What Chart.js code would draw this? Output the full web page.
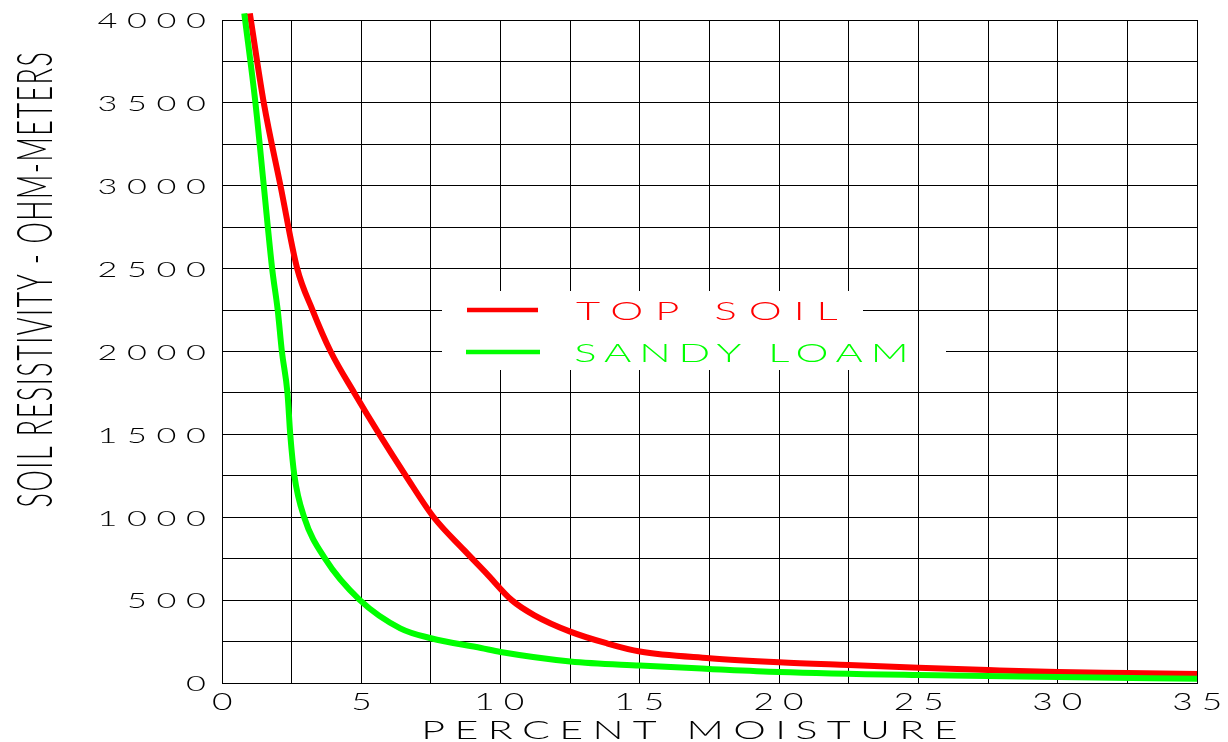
<!DOCTYPE html>
<html>
<head>
<meta charset="utf-8">
<title>Soil resistivity vs. moisture</title>
<script src="https://cdn.jsdelivr.net/npm/chart.js@4.4.1/dist/chart.umd.min.js"></script>
<style>
  html, body { margin: 0; padding: 0; background: #ffffff; }
  #wrap { width: 1228px; height: 742px; position: relative; }
</style>
</head>
<body>
<div id="wrap"><canvas id="chart"></canvas></div>
<script>
// ---- data -------------------------------------------------------------
const xTickLabels = ['0', '5', '10', '15', '20', '25', '30', '35'];
const yTickLabels = ['0', '500', '1000', '1500', '2000', '2500', '3000', '3500', '4000'];
const seriesNames = ['TOP SOIL', 'SANDY LOAM'];
const xAxisTitle = 'PERCENT MOISTURE';
const yAxisTitle = 'SOIL RESISTIVITY - OHM-METERS';

// Top soil: percent moisture / resistivity (ohm-meters)
const topSoilMoisture    = [1.0, 1.5, 2.1, 2.7, 3.25, 3.9, 4.75, 5.65, 6.6, 7.6, 8.7, 9.5, 10.4, 11.2, 12.5, 13.8, 15, 17.5, 20, 22.5, 25, 27.5, 30, 32.5, 35];
const topSoilResistivity = [4040, 3500, 3000, 2500, 2250, 2000, 1750, 1500, 1250, 1000, 800, 660, 500, 410, 310, 240, 190, 150, 125, 108, 92, 78, 66, 60, 54];

// Sandy loam: percent moisture / resistivity (ohm-meters)
const sandyLoamMoisture    = [0.8, 1.2, 1.5, 1.8, 2.0, 2.15, 2.35, 2.45, 2.6, 2.95, 3.7, 4.95, 6.4, 7.5, 9.3, 10, 12.5, 15, 17.5, 20, 25, 30, 35];
const sandyLoamResistivity = [4040, 3500, 3000, 2500, 2250, 2000, 1750, 1500, 1250, 1000, 750, 500, 330, 270, 211, 187, 130, 105, 85, 67, 48, 36, 25];

const topSoilColor = '#ff0000';
const sandyLoamColor = '#00ff00';

// ---- plotter-style lettering -------------------------------------------
// Wide, thin, evenly pitched letters like a pen plotter's stroke font.
const FONT_FAMILY = 'Lato, Roboto, "DejaVu Sans", sans-serif';
const FONT_WEIGHT = '300';

function plotText(ctx, text, o) {
  ctx.save();
  const probe = 100;
  const ref = o.refChar || 'H';
  ctx.font = `${FONT_WEIGHT} ${probe}px ${FONT_FAMILY}`;
  ctx.letterSpacing = '0px';
  const mh = ctx.measureText(ref);
  const size = probe * o.capH / (mh.actualBoundingBoxAscent + mh.actualBoundingBoxDescent);
  ctx.font = `${FONT_WEIGHT} ${size}px ${FONT_FAMILY}`;
  const mR = ctx.measureText(ref);
  const glyphInk = mR.actualBoundingBoxLeft + mR.actualBoundingBoxRight;
  const base = mR.actualBoundingBoxDescent;
  const sx = o.glyphW / glyphInk;
  const chars = Array.from(text);
  const natural = ctx.measureText(text).width / chars.length;
  const ls = o.pitch / sx - natural;
  ctx.letterSpacing = ls + 'px';
  const m = ctx.measureText(text);
  const inkW = (m.actualBoundingBoxLeft + m.actualBoundingBoxRight) * sx;
  let off = 0;
  if (o.align === 'center') off = -inkW / 2;
  else if (o.align === 'right') off = -inkW;
  ctx.translate(o.x, o.y);
  if (o.angle) ctx.rotate(o.angle);
  ctx.scale(sx, 1);
  ctx.textAlign = 'left';
  ctx.textBaseline = 'alphabetic';
  ctx.fillStyle = o.color || '#000';
  ctx.fillText(text, off / sx + m.actualBoundingBoxLeft, o.capH / 2 - base);
  ctx.restore();
}

// Tick labels, axis titles and the boxed key, all in plotter lettering.
const plotterText = {
  id: 'plotterText',
  beforeDatasetsDraw(chart) {
    const ctx = chart.ctx;
    const xs = chart.scales.x;
    // blank panel behind the key
    ctx.save();
    ctx.fillStyle = '#ffffff';
    ctx.fillRect(442, 291, 863 - 442, 79);
    ctx.fillRect(863, 331, 946 - 863, 39);
    // the 25 % grid line runs through the key panel
    const gx = Math.round(xs.getPixelForValue(25)) + 0.5;
    ctx.strokeStyle = '#000';
    ctx.lineWidth = 1;
    ctx.beginPath();
    ctx.moveTo(gx, 331);
    ctx.lineTo(gx, 370);
    ctx.stroke();
    ctx.restore();
  },
  afterDatasetsDraw(chart) {
    const ctx = chart.ctx;
    const xs = chart.scales.x;
    const ys = chart.scales.y;
    const area = chart.chartArea;

    // x tick labels
    xs.ticks.forEach(t => {
      if (!t.label) return;
      plotText(ctx, String(t.label), {
        x: xs.getPixelForValue(t.value), y: 701, refChar: '0',
        capH: 17, glyphW: 20, pitch: 29.5, align: 'center', color: '#000'
      });
    });
    // y tick labels
    ys.ticks.forEach(t => {
      if (!t.label) return;
      plotText(ctx, String(t.label), {
        x: area.left - 16, y: ys.getPixelForValue(t.value), refChar: '0',
        capH: 16.5, glyphW: 20, pitch: 29.5, align: 'right', color: '#000'
      });
    });
    // axis titles
    plotText(ctx, xAxisTitle, {
      x: 690, y: 729, capH: 19, glyphW: 25, pitch: 34.1, align: 'center', color: '#000'
    });
    plotText(ctx, yAxisTitle, {
      x: 34, y: 280, capH: 36, glyphW: 15, pitch: 15.75, align: 'center',
      angle: -Math.PI / 2, color: '#000'
    });

    // key
    const keyRows = [
      { name: seriesNames[0], color: topSoilColor, y: 310, x0: 467, x1: 538 },
      { name: seriesNames[1], color: sandyLoamColor, y: 352, x0: 466, x1: 540 }
    ];
    keyRows.forEach(r => {
      ctx.save();
      ctx.strokeStyle = r.color;
      ctx.lineWidth = 4.5;
      ctx.lineCap = 'butt';
      ctx.beginPath();
      ctx.moveTo(r.x0, r.y);
      ctx.lineTo(r.x1, r.y);
      ctx.stroke();
      ctx.restore();
      plotText(ctx, r.name, {
        x: 576, y: r.y + 1, capH: 18, glyphW: 25, pitch: 34.2, align: 'left', color: r.color
      });
    });
  }
};

const toPoints = (xs, ys) => xs.map((x, i) => ({ x, y: ys[i] }));

new Chart(document.getElementById('chart'), {
  type: 'line',
  data: {
    datasets: [
      {
        label: seriesNames[0],
        data: toPoints(topSoilMoisture, topSoilResistivity),
        borderColor: topSoilColor,
        borderWidth: 6,
        pointRadius: 0,
        cubicInterpolationMode: 'monotone',
        clip: false,
        order: 2
      },
      {
        label: seriesNames[1],
        data: toPoints(sandyLoamMoisture, sandyLoamResistivity),
        borderColor: sandyLoamColor,
        borderWidth: 6,
        pointRadius: 0,
        cubicInterpolationMode: 'monotone',
        clip: false,
        order: 1
      }
    ]
  },
  options: {
    responsive: true,
    maintainAspectRatio: false,
    animation: false,
    devicePixelRatio: 1,
    layout: { padding: { left: 0, top: 20, right: 31, bottom: 0 } },
    plugins: {
      legend: { display: false },
      tooltip: { enabled: false },
      title: { display: false }
    },
    scales: {
      x: {
        type: 'linear',
        min: 0,
        max: 35,
        ticks: {
          stepSize: 2.5,
          display: false,
          autoSkip: false,
          callback: v => (v % 5 === 0 ? xTickLabels[v / 5] : '')
        },
        grid: { color: '#000', lineWidth: 1, drawTicks: false },
        border: { display: true, color: '#000', width: 1 },
        afterFit: s => { s.height = 59; }
      },
      y: {
        type: 'linear',
        min: 0,
        max: 4000,
        ticks: {
          stepSize: 250,
          display: false,
          autoSkip: false,
          callback: v => (v % 500 === 0 ? yTickLabels[v / 500] : '')
        },
        grid: { color: '#000', lineWidth: 1, drawTicks: false },
        border: { display: true, color: '#000', width: 1 },
        afterFit: s => { s.width = 222; }
      }
    }
  },
  plugins: [plotterText]
});
</script>
</body>
</html>
